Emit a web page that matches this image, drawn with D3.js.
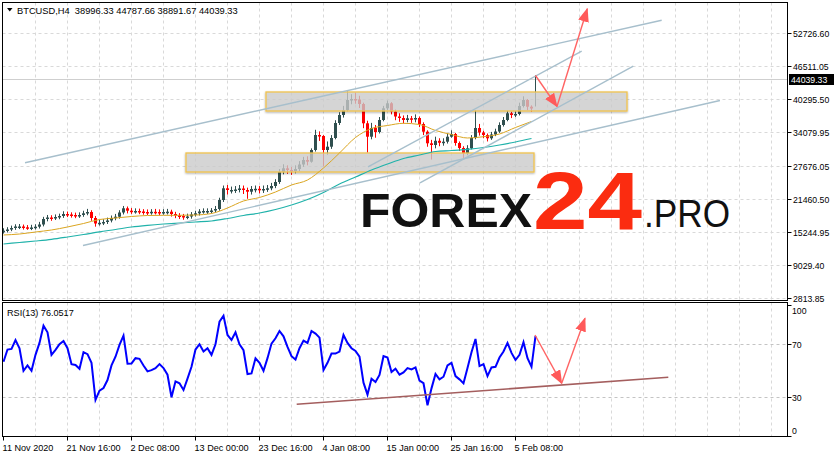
<!DOCTYPE html>
<html><head><meta charset="utf-8">
<script src="https://cdn.jsdelivr.net/npm/d3@7"></script>
<style>
body{margin:0;background:#fff;}
svg{display:block;}
text{font-family:"Liberation Sans",Arial,sans-serif;}
</style>
</head><body>
<svg id="c" width="838" height="458"></svg>
<script>
// ---------------- DATA ----------------
const symbol = "BTCUSD,H4";
const lastOHLC = [38996.33, 44787.66, 38891.67, 44039.33];
const firstOpen = 15350;
const barStep = 4; // each drawn candle groups 4 H4 bars

const closes = [15490,15716,15999,16281,16281,16130,16093,16093,16243,16658,
17694,17976,17882,18070,18259,18635,18541,18447,18353,18447,
18767,19012,17882,16846,16978,17129,17411,17882,18127,18918,
19709,19257,19200,19200,19106,19012,18956,19050,19012,18918,
19012,19069,18635,18353,18259,18070,18165,18541,18767,19106,
19200,19200,19295,19577,21272,23476,23156,23156,23250,23438,
23156,22836,23344,23382,23156,23344,23476,23909,24663,26546,
27243,26923,26734,27111,27959,28806,28486,30690,33515,33327,
30690,31311,32950,35775,37282,38224,40107,40296,40201,39354,
35719,33195,34834,34080,36340,38544,39486,37941,37000,36717,
36340,36660,36434,36717,35587,34137,31952,31632,32423,32046,
32253,33195,33703,32008,31067,30068,31010,32950,34834,33986,
33515,32894,33609,34174,35399,36340,37602,37282,37470,38977,
40107,38845,38506];

const highs = [15950,16150,16450,16700,16750,16650,16550,16600,16700,17150,
18100,18450,18400,18550,18700,19150,19100,18950,18900,18950,
19250,19600,19350,18250,17550,17650,17950,18350,18650,19350,
20150,20050,19750,19700,19650,19550,19500,19550,19600,19500,
19550,19600,19450,19050,18800,18650,18700,19000,19250,19550,
19700,19700,19750,20150,21700,24000,24100,23800,23900,24100,
24000,23600,23900,24000,23900,24000,24100,24500,25200,27100,
28000,27800,27500,27800,28600,29400,29500,31000,34500,34200,
33500,32300,33500,36300,37800,39000,41700,41200,41500,40900,
39600,36200,35800,35400,36900,39000,40000,39700,38300,37600,
37200,37300,37100,37400,37000,35900,34400,32600,33200,32900,
32900,33800,34400,33900,32300,31400,31600,33500,38200,35600,
34300,33800,34100,34700,35900,36900,38100,37900,38000,39600,
40800,40300,39100];

const lows = [14950,15150,15400,15650,15800,15700,15650,15600,15700,15900,
16300,17250,17350,17500,17650,17900,18050,17950,17850,17900,
18100,18400,17350,16250,16450,16550,16750,17050,17450,17750,
18550,18750,18650,18700,18600,18500,18450,18500,18550,18400,
18500,18550,18150,17850,17700,17550,17650,17750,18150,18350,
18700,18650,18750,18900,19250,20900,22300,22500,22600,22700,
22400,21500,22300,22700,22500,22600,22800,23100,23500,24300,
26100,26200,26000,26300,26700,27500,27800,28300,30400,32400,
27600,29800,30900,32700,35400,36800,38000,39300,39400,38600,
34800,30200,32700,33000,33800,36100,38200,37400,36300,36000,
35700,35900,35800,35900,35000,33500,31300,28900,31000,31400,
31500,31900,33000,31500,30500,29200,29700,30800,32700,33400,
32900,32300,32600,33300,33900,35100,36100,36700,36900,37200,
38700,38200,37900];

const maStep = 16; // bars between MA samples
const maFast = [14680,14868,15245,15622,16187,16846,17599,17882,18165,18353,18391,18391,18447,18730,19766,21084,21743,22779,24098,25039,27300,30125,33044,34739,35304,35719,35493,34363,33609,32950,33195,33703,34928,36058];
const maSlow = [12985,13267,13550,13870,14303,14774,15283,15716,16187,16507,16752,16940,17129,17317,17788,18353,18824,19483,20331,21366,22685,24286,25604,26923,28053,29089,29748,30407,30596,30822,31161,31632,32197,32856];

const rsiLabel = "RSI(13)";
const rsi = [56.8,66,66.5,73.2,67,50,54,50,62,71,
84,79,62,65.7,70,72.5,67,55,54.4,51.5,
64,62.5,56,28,35,37,43,54,60.6,69.5,
76.5,55.3,55.5,59.5,59,54,49.5,50.5,52,55,
52,47,30,42,40.5,35.5,44,53,66,70,
64.5,67,62,70,87,91.5,77,73.2,79,70,
65.5,47.5,48,59.4,56,50,59.5,70.5,74.5,80,
76,68,61,58.5,67,72.8,71,80,78,75,
50.5,56,63,63,64.5,77,71,67,65,60.6,
41,32,44,41.5,46.8,61,60,49,51.5,47,
48.8,52,51,52.5,42.5,40.6,24,36.7,47.6,43.5,
45.5,54,56,46,43.5,40.5,52,64,74,53.5,
55,46,52.5,53,60,64.5,71,63.5,58.1,62,
71.5,59.5,53,76.0517];

const priceTicks = [2813.85, 9029.40, 15244.95, 21460.50, 27676.05, 34079.95, 40295.50, 46511.05, 52726.60];
const rsiTicks = [0, 30, 70, 100];
const rsiLevels = [30, 70];
const timeLabels = ["11 Nov 2020","21 Nov 16:00","2 Dec 08:00","13 Dec 00:00","23 Dec 16:00","4 Jan 08:00","15 Jan 00:00","25 Jan 16:00","5 Feb 08:00"];
const timeLabelStep = 64; // bars
const gridStep = 32;      // bars

// annotations (bar index, price)
const zones = [
  {b0: 262.5, b1: 623.5, hi: 41615, lo: 38035},
  {b0: 182.5, b1: 530.5, hi: 30124, lo: 26546}
];
const trendLines = [
  [[21.5, 28279], [658.2, 55137]],
  [[79.5, 12702], [716.5, 40013]],
  [[364.5, 27525], [578.2, 49299]],
  [[416.5, 24512], [629.8, 46473]]
];
const priceArrow = [[532, 44722], [553.5, 38882], [583.8, 57284]];
const rsiTrend = [[293.2, 24.7], [664.8, 45.1]];
const rsiArrow = [[531.5, 77], [558.2, 40.5], [581.5, 89.6]];

// ---------------- CHART ----------------
const svg = d3.select("#c");
const L = 2.5, R = 787.5, T1 = 2.5, B1 = 300.5, T2 = 302.5, B2 = 436.5;

const x = d3.scaleLinear().domain([0, 784]).range([3.5, 787.5]);
const y = d3.scaleLinear().domain([2813.85, 52726.60]).range([298, 33]);
const yr = d3.scaleLinear().domain([0, 100]).range([437, 304.5]);

const defs = svg.append("defs");
defs.append("clipPath").attr("id","cp1").append("rect").attr("x",L).attr("y",T1).attr("width",R-L).attr("height",B1-T1);
defs.append("clipPath").attr("id","cp2").append("rect").attr("x",L).attr("y",T2).attr("width",R-L).attr("height",B2-T2);
defs.append("marker").attr("id","ah").attr("markerUnits","userSpaceOnUse")
  .attr("markerWidth",14).attr("markerHeight",11).attr("refX",13).attr("refY",5.5)
  .attr("orient","auto").append("path").attr("d","M0,0 L14,5.5 L0,11 Z").attr("fill","#ff5a5a");
const f = defs.append("filter").attr("id","glow").attr("x","-5%").attr("y","-40%").attr("width","110%").attr("height","180%");
f.append("feGaussianBlur").attr("in","SourceAlpha").attr("stdDeviation",1.2).attr("result","b");
f.append("feOffset").attr("in","b").attr("dx",0).attr("dy",0.5).attr("result","o");
f.append("feComponentTransfer").attr("in","o").attr("result","s").append("feFuncA").attr("type","linear").attr("slope",0.35);
const fm = f.append("feMerge"); fm.append("feMergeNode").attr("in","s"); fm.append("feMergeNode").attr("in","SourceGraphic");

const gridColor = "#d9d9d9";
// main grid
const g1 = svg.append("g").attr("clip-path","url(#cp1)");
const vgrid = d3.range(gridStep, 785, gridStep);
g1.selectAll(".vg").data(vgrid).join("line")
  .attr("x1",d=>x(d)).attr("x2",d=>x(d)).attr("y1",T1).attr("y2",B1)
  .attr("stroke",gridColor).attr("stroke-dasharray","3,3");
g1.selectAll(".hg").data(priceTicks).join("line")
  .attr("x1",L).attr("x2",R).attr("y1",d=>Math.round(y(d))+0.5).attr("y2",d=>Math.round(y(d))+0.5)
  .attr("stroke",gridColor).attr("stroke-dasharray","3,3");
// bid line
g1.append("line").attr("x1",L).attr("x2",R)
  .attr("y1",Math.round(y(lastOHLC[3]))+0.5).attr("y2",Math.round(y(lastOHLC[3]))+0.5)
  .attr("stroke","#cfcfcf");

// candles
const candles = closes.map((c,i)=>({bar:i*barStep, o: i===0?firstOpen:closes[i-1], h:highs[i], l:lows[i], c, w:3}));
candles.push({bar: closes.length*barStep, o:lastOHLC[0], h:lastOHLC[1], l:lastOHLC[2], c:lastOHLC[3], w:1});
const bull = "#2f4f4f", bear = "#ff0000";
const cg = g1.append("g");
cg.selectAll(".wk").data(candles).join("line")
  .attr("x1",d=>x(d.bar)).attr("x2",d=>x(d.bar)).attr("y1",d=>y(d.h)).attr("y2",d=>y(d.l))
  .attr("stroke",d=>d.c>=d.o?bull:bear).attr("stroke-width",1);
cg.selectAll(".bd").data(candles).join("rect")
  .attr("x",d=>x(d.bar)-d.w/2).attr("width",d=>d.w)
  .attr("y",d=>y(Math.max(d.o,d.c))).attr("height",d=>Math.max(1.5,Math.abs(y(d.o)-y(d.c))))
  .attr("fill",d=>d.c>=d.o?bull:bear);

// zones
g1.selectAll(".zn").data(zones).join("rect")
  .attr("x",d=>x(d.b0)).attr("width",d=>x(d.b1)-x(d.b0))
  .attr("y",d=>y(d.hi)).attr("height",d=>y(d.lo)-y(d.hi))
  .attr("fill","#d2d2d2").attr("fill-opacity",0.72)
  .attr("stroke","#f0c24e").attr("stroke-width",1.3).attr("filter","url(#glow)");

// moving averages
const maLine = d3.line().x((d,i)=>x(i*maStep)).y(d=>y(d)).curve(d3.curveMonotoneX);
g1.append("path").attr("d",maLine(maSlow)).attr("fill","none").attr("stroke","#20b2aa").attr("stroke-width",1.2);
g1.append("path").attr("d",maLine(maFast)).attr("fill","none").attr("stroke","#daa520").attr("stroke-width",1);

// trend lines
const pLine = d3.line().x(d=>x(d[0])).y(d=>y(d[1]));
g1.selectAll(".tl").data(trendLines).join("path")
  .attr("d",d=>pLine(d)).attr("fill","none").attr("stroke","#a7bfcc").attr("stroke-width",1.4);

// arrows
for (let i=0;i<priceArrow.length-1;i++){
  g1.append("path").attr("d",pLine([priceArrow[i],priceArrow[i+1]]))
    .attr("stroke","#ff6464").attr("stroke-width",1.4).attr("fill","none").attr("marker-end","url(#ah)");
}

// logo
const logo = svg.append("g");
logo.append("text").attr("x",360).attr("y",227).attr("font-family","Roboto").attr("font-weight",900)
  .attr("font-size",49).attr("textLength",172).attr("lengthAdjust","spacingAndGlyphs").attr("fill","#111").text("FOREX");
logo.append("text").attr("x",533).attr("y",228.5).attr("font-family","Roboto").attr("font-weight",900)
  .attr("font-size",81).attr("textLength",109).attr("lengthAdjust","spacingAndGlyphs").attr("fill","#fb2c10").text("24");
logo.append("text").attr("x",644).attr("y",227).attr("font-family","Roboto").attr("font-weight",300)
  .attr("font-size",39).attr("textLength",86).attr("lengthAdjust","spacingAndGlyphs").attr("fill","#111").text(".PRO");

// RSI panel
const g2 = svg.append("g").attr("clip-path","url(#cp2)");
g2.selectAll(".vg").data(vgrid).join("line")
  .attr("x1",d=>x(d)).attr("x2",d=>x(d)).attr("y1",T2).attr("y2",B2)
  .attr("stroke",gridColor).attr("stroke-dasharray","3,3");
g2.selectAll(".lv").data(rsiLevels).join("line")
  .attr("x1",L).attr("x2",R).attr("y1",d=>Math.round(yr(d))+0.5).attr("y2",d=>Math.round(yr(d))+0.5)
  .attr("stroke","#c4c4c4").attr("stroke-dasharray","3,3");
const rLine = d3.line().x((d,i)=>x(i*barStep)).y(d=>yr(d));
g2.append("path").attr("d",rLine(rsi)).attr("fill","none").attr("stroke","#0000ff").attr("stroke-width",2).attr("stroke-linejoin","miter");
const rtLine = d3.line().x(d=>x(d[0])).y(d=>yr(d[1]));
g2.append("path").attr("d",rtLine(rsiTrend)).attr("stroke","#a45e5e").attr("stroke-width",1.6).attr("fill","none");
for (let i=0;i<rsiArrow.length-1;i++){
  g2.append("path").attr("d",rtLine([rsiArrow[i],rsiArrow[i+1]]))
    .attr("stroke","#ff6464").attr("stroke-width",1.4).attr("fill","none").attr("marker-end","url(#ah)");
}

// frames
svg.append("rect").attr("x",L).attr("y",T1).attr("width",R-L).attr("height",B1-T1).attr("fill","none").attr("stroke","#000");
svg.append("rect").attr("x",L).attr("y",T2).attr("width",R-L).attr("height",B2-T2).attr("fill","none").attr("stroke","#000");

// price axis
const pa = svg.append("g");
pa.selectAll("line").data(priceTicks).join("line")
  .attr("x1",R).attr("x2",R+4).attr("y1",d=>Math.round(y(d))+0.5).attr("y2",d=>Math.round(y(d))+0.5).attr("stroke","#000");
pa.selectAll("text").data(priceTicks).join("text")
  .attr("x",793).attr("y",d=>Math.round(y(d))+3.5).attr("font-size",8.7).attr("fill","#000")
  .text(d=>d.toFixed(2));
// bid label
const by = Math.round(y(lastOHLC[3]));
svg.append("rect").attr("x",789).attr("y",by-5).attr("width",45).attr("height",11).attr("fill","#000");
svg.append("text").attr("x",791).attr("y",by+4).attr("font-size",8.7).attr("fill","#fff").text(lastOHLC[3].toFixed(2));

// RSI axis
const ra = svg.append("g");
ra.selectAll("line").data(rsiTicks).join("line")
  .attr("x1",R).attr("x2",R+4).attr("y1",d=>Math.round(Math.min(Math.max(yr(d),T2+2),B2-1))+0.5)
  .attr("y2",d=>Math.round(Math.min(Math.max(yr(d),T2+2),B2-1))+0.5).attr("stroke","#000");
ra.selectAll("text").data(rsiTicks).join("text")
  .attr("x",792).attr("y",d=>Math.min(Math.max(yr(d)+3.5, T2+11.5), B2-3))
  .attr("font-size",8.7).attr("fill","#000").text(d=>d);

// time axis
const tb = timeLabels.map((t,i)=>({t, bar:i*timeLabelStep}));
svg.selectAll(".tt").data(tb).join("line")
  .attr("x1",d=>x(d.bar)).attr("x2",d=>x(d.bar)).attr("y1",B2).attr("y2",B2+4).attr("stroke","#000");
svg.selectAll(".tx").data(tb).join("text")
  .attr("x",d=>x(d.bar)-1).attr("y",450.5).attr("font-size",9.1).attr("fill","#000").text(d=>d.t);

// titles
svg.append("path").attr("d","M7,8 L12.5,8 L9.75,11.5 Z").attr("fill","#000");
svg.append("text").attr("x",17).attr("y",14).attr("font-size",9.3).attr("fill","#000")
  .attr("xml:space","preserve").style("white-space","pre")
  .text(symbol + "  " + lastOHLC.map(v=>v.toFixed(2)).join(" "));
svg.append("text").attr("x",7).attr("y",316).attr("font-size",9.1).attr("fill","#000")
  .text(rsiLabel + " " + rsi[rsi.length-1].toFixed(4));
</script>
</body></html>
